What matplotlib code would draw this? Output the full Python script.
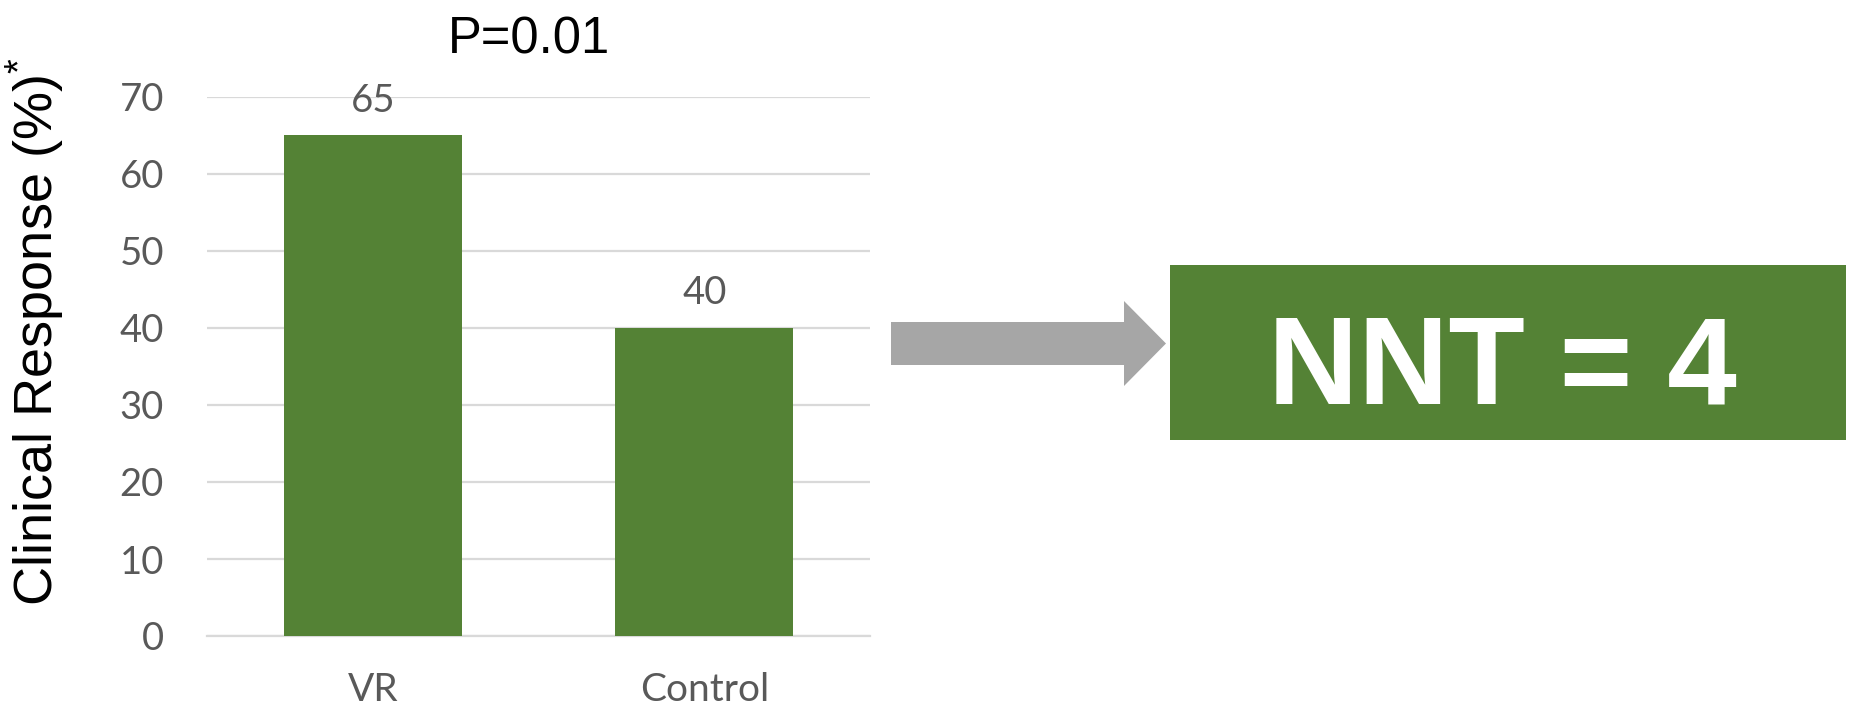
import matplotlib
matplotlib.use('Agg')
import matplotlib.pyplot as plt
from matplotlib.patches import Polygon, Rectangle

plt.rcParams['mathtext.fontset'] = 'custom'
plt.rcParams['mathtext.rm'] = 'Liberation Sans'
plt.rcParams['mathtext.it'] = 'Liberation Sans'

# data
groups = ['VR', 'Control']
response = [65, 40]
yticks = [0, 10, 20, 30, 40, 50, 60, 70]
p_text = 'P=0.01'
nnt_text = 'NNT = 4'

green = '#548235'
grey_txt = '#595959'
W, H = 1853, 712

fig = plt.figure(figsize=(W / 100, H / 100), dpi=100)

ax = fig.add_axes([207 / W, 1 - 636 / H, 663 / W, 539 / H])
bars = ax.bar(range(len(groups)), response, width=0.537, color=green, zorder=3)
ax.set_xlim(-0.5, len(groups) - 0.5)
ax.set_ylim(0, 70)
ax.set_yticks(yticks)
ax.set_xticks(range(len(groups)))
ax.set_xticklabels(groups)
ax.grid(axis='y', color='#d9d9d9', linewidth=1.6, zorder=0)
for s in ['top', 'right', 'left']:
    ax.spines[s].set_visible(False)
ax.spines['bottom'].set_color('#d9d9d9')
ax.spines['bottom'].set_linewidth(1.6)
ax.tick_params(axis='y', length=0, pad=31, labelsize=27.5, labelcolor=grey_txt)
ax.tick_params(axis='x', length=0, pad=26, labelsize=28, labelcolor=grey_txt)
for lab in ax.get_xticklabels() + ax.get_yticklabels():
    lab.set_fontfamily('Lato')
ax.bar_label(bars, padding=12, fontsize=27.5, color=grey_txt, fontfamily='Lato')

# title and y label
fig.text(529 / W, 1 - 53 / H, p_text, ha='center', va='baseline',
         fontsize=36.5, family='Liberation Sans', color='black')
fig.text(36 / W, 1 - 331 / H, r'Clinical Response (%)$^{*}$', rotation=90,
         ha='center', va='center', fontsize=39, family='Liberation Sans', color='black')

# arrow and NNT box, drawn in pixel space
ov = fig.add_axes([0, 0, 1, 1], facecolor='none')
ov.set_xlim(0, W)
ov.set_ylim(H, 0)
ov.axis('off')
arrow = Polygon([(891, 322), (1124, 322), (1124, 301), (1166, 343.5),
                 (1124, 386), (1124, 365), (891, 365)],
                closed=True, facecolor='#a6a6a6', edgecolor='none')
ov.add_patch(arrow)
ov.add_patch(Rectangle((1170, 265), 676, 175, facecolor=green, edgecolor='none'))
ov.text(1502, 403, nnt_text, ha='center', va='baseline', fontsize=90,
        fontweight='bold', family='Liberation Sans', color='white')

fig.savefig('out.png', dpi=100)
